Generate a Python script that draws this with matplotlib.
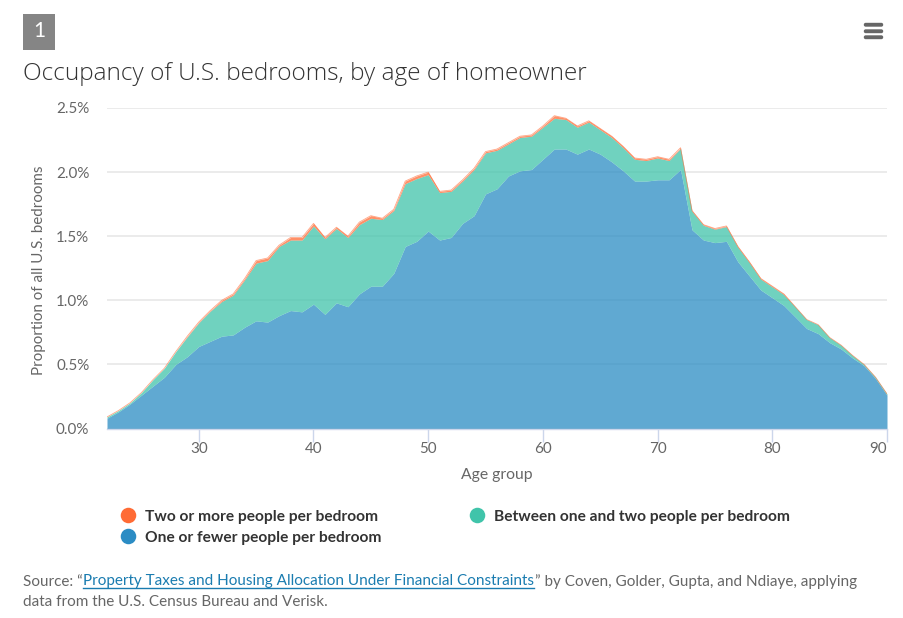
import numpy as np
import matplotlib
matplotlib.use("Agg")
import matplotlib.pyplot as plt
from matplotlib.patches import Rectangle, FancyBboxPatch

plt.rcParams['font.family'] = ['Lato', 'DejaVu Sans']

ages = list(range(22, 91))

# percent of all bedrooms
one_or_fewer = [
    .08, .13, .19, .26, .33, .40, .50, .56, .64, .68, .72, .73, .79, .84, .83, .88, .92, .91, .97, .89,
    .98, .95, 1.05, 1.11, 1.11, 1.21, 1.42, 1.46, 1.54, 1.47, 1.49, 1.60, 1.66, 1.83, 1.87, 1.97, 2.01, 2.02, 2.10, 2.18,
    2.18, 2.14, 2.18, 2.14, 2.08, 2.01, 1.93, 1.93, 1.94, 1.94, 2.02, 1.55, 1.47, 1.45, 1.46, 1.30, 1.19, 1.08, 1.02, .96,
    .87, .78, .74, .67, .62, .55, .49, .39, .26]
one_to_two = [
    .01, .01, .01, .02, .05, .07, .10, .155, .185, .235, .27, .31, .37, .45, .48, .54, .55, .56, .61, .59,
    .58, .54, .54, .53, .52, .49, .49, .49, .44, .37, .36, .33, .36, .32, .30, .25, .26, .26, .25, .24,
    .23, .21, .21, .19, .19, .18, .17, .16, .17, .15, .165, .145, .115, .105, .115, .115, .105, .085, .085, .085,
    .08, .07, .07, .04, .03, .02, .01, .01, .01]
two_or_more = [
    0, 0, 0, 0, 0, 0, 0, .005, .005, .005, .01, .01, .01, .02, .02, .01, .02, .02, .02, .01,
    .01, .01, .02, .02, .01, .01, .02, .02, .02, .01, .01, .01, .01, .01, .01, .01, .01, .01, .01, .02,
    .01, .01, .01, .01, .01, .01, .01, .01, .01, .01, .005, .005, .005, .005, .005, .005, .005, .005, .005, .005,
    0, 0, 0, 0, 0, 0, 0, 0, 0]

y_ticks = [0, 0.5, 1.0, 1.5, 2.0, 2.5]
y_labels = ['0.0%', '0.5%', '1.0%', '1.5%', '2.0%', '2.5%']
x_ticks = [30, 40, 50, 60, 70, 80, 90]

BLUE = '#2b8cc4'
GREEN = '#40c4aa'
ORANGE = '#ff6b35'
W, H = 904, 618

fig = plt.figure(figsize=(W / 100, H / 100), dpi=100, facecolor='white')

# overlay in pixel coordinates for the page furniture
page = fig.add_axes([0, 0, 1, 1])
page.set_xlim(0, W)
page.set_ylim(H, 0)
page.axis('off')

# plot area: x 107..887, y 108..428.5
ax = fig.add_axes([107 / W, 1 - 428.5 / H, 780 / W, 320.5 / H])
ax.patch.set_alpha(0)

low = np.array(one_or_fewer)
mid = low + np.array(one_to_two)
top = mid + np.array(two_or_more)

ax.fill_between(ages, 0, low, color=BLUE, alpha=0.75, lw=0, zorder=3)
ax.fill_between(ages, low, mid, color=GREEN, alpha=0.75, lw=0, zorder=3)
ax.fill_between(ages, mid, top, color=ORANGE, alpha=0.75, lw=0, zorder=3)
ax.plot(ages, top, color=ORANGE, lw=0.6, alpha=0.6, zorder=4, solid_joinstyle='round')

ax.set_xlim(22, 90)
ax.set_ylim(0, 2.5)
ax.set_yticks(y_ticks)
ax.set_yticklabels(y_labels)
ax.set_xticks(x_ticks)
ax.grid(axis='y', color='#e6e6e6', lw=1.1, zorder=1)
ax.set_axisbelow(True)
for name in ['top', 'left', 'right']:
    ax.spines[name].set_visible(False)
ax.spines['bottom'].set_color('#ccd6eb')
ax.spines['bottom'].set_linewidth(1)
ax.spines['bottom'].set_zorder(5)
ax.tick_params(axis='x', length=9, width=1, color='#ccd6eb', labelcolor='#666666', labelsize=10.9, pad=0.5)
ax.tick_params(axis='y', length=0, labelcolor='#666666', labelsize=10.9, pad=12.7)
# last label is pulled inside the chart edge
ax.get_xticklabels()[-1].set_ha('right')
ax.get_xticklabels()[-1].set_x(90.1)

page.text(497, 475.5, 'Age group', fontsize=11.3, color='#666666', ha='center', va='center')
page.text(39, 270, 'Proportion of all U.S. bedrooms', fontsize=10.9, color='#666666',
          ha='center', va='center', rotation=90)

# number badge, title, menu icon
page.add_patch(Rectangle((23, 14), 32, 36, color='#858585', lw=0))
page.text(39, 31, '1', fontsize=15, color='white', ha='center', va='center')
page.text(23, 74, 'Occupancy of U.S. bedrooms, by age of homeowner', fontsize=17.6,
          color='#333333', ha='left', va='center', family='Open Sans', fontweight=300)
for yy in [23.5, 30, 36]:
    page.add_patch(FancyBboxPatch((864.5, yy), 18, 2.5, boxstyle='round,pad=0,rounding_size=1.2',
                                  fc='#666666', ec='#666666', lw=1))

# legend
legend_items = [(128, 515, ORANGE, 'Two or more people per bedroom'),
                (477, 515, GREEN, 'Between one and two people per bedroom'),
                (128, 536, BLUE, 'One or fewer people per bedroom')]
for lx, ly, col, label in legend_items:
    page.scatter([lx], [ly], s=125, color=col, lw=0)
    page.text(lx + 17, ly + 2, label, fontsize=11.2, fontweight='bold', color='#333333',
              ha='left', va='center')

# source note, laid out in pieces so the link can be underlined
fig.canvas.draw()
renderer = fig.canvas.get_renderer()
source_parts = [('Source: \u201c', '#666666'),
                ('Property Taxes and Housing Allocation Under Financial Constraints', '#1a7cb0'),
                ('\u201d by Coven, Golder, Gupta, and Ndiaye, applying', '#666666')]
sx = 23
for part, col in source_parts:
    t = page.text(sx, 581.5, part, fontsize=11, color=col, ha='left', va='center')
    width = t.get_window_extent(renderer).width
    if col != '#666666':
        page.plot([sx, sx + width], [587.5, 587.5], color=col, lw=1)
    sx += width + 0.5
page.set_xlim(0, W)
page.set_ylim(H, 0)
page.text(23, 601.5, 'data from the U.S. Census Bureau and Verisk.', fontsize=11, color='#666666',
          ha='left', va='center')

fig.savefig('out.png', dpi=100)
